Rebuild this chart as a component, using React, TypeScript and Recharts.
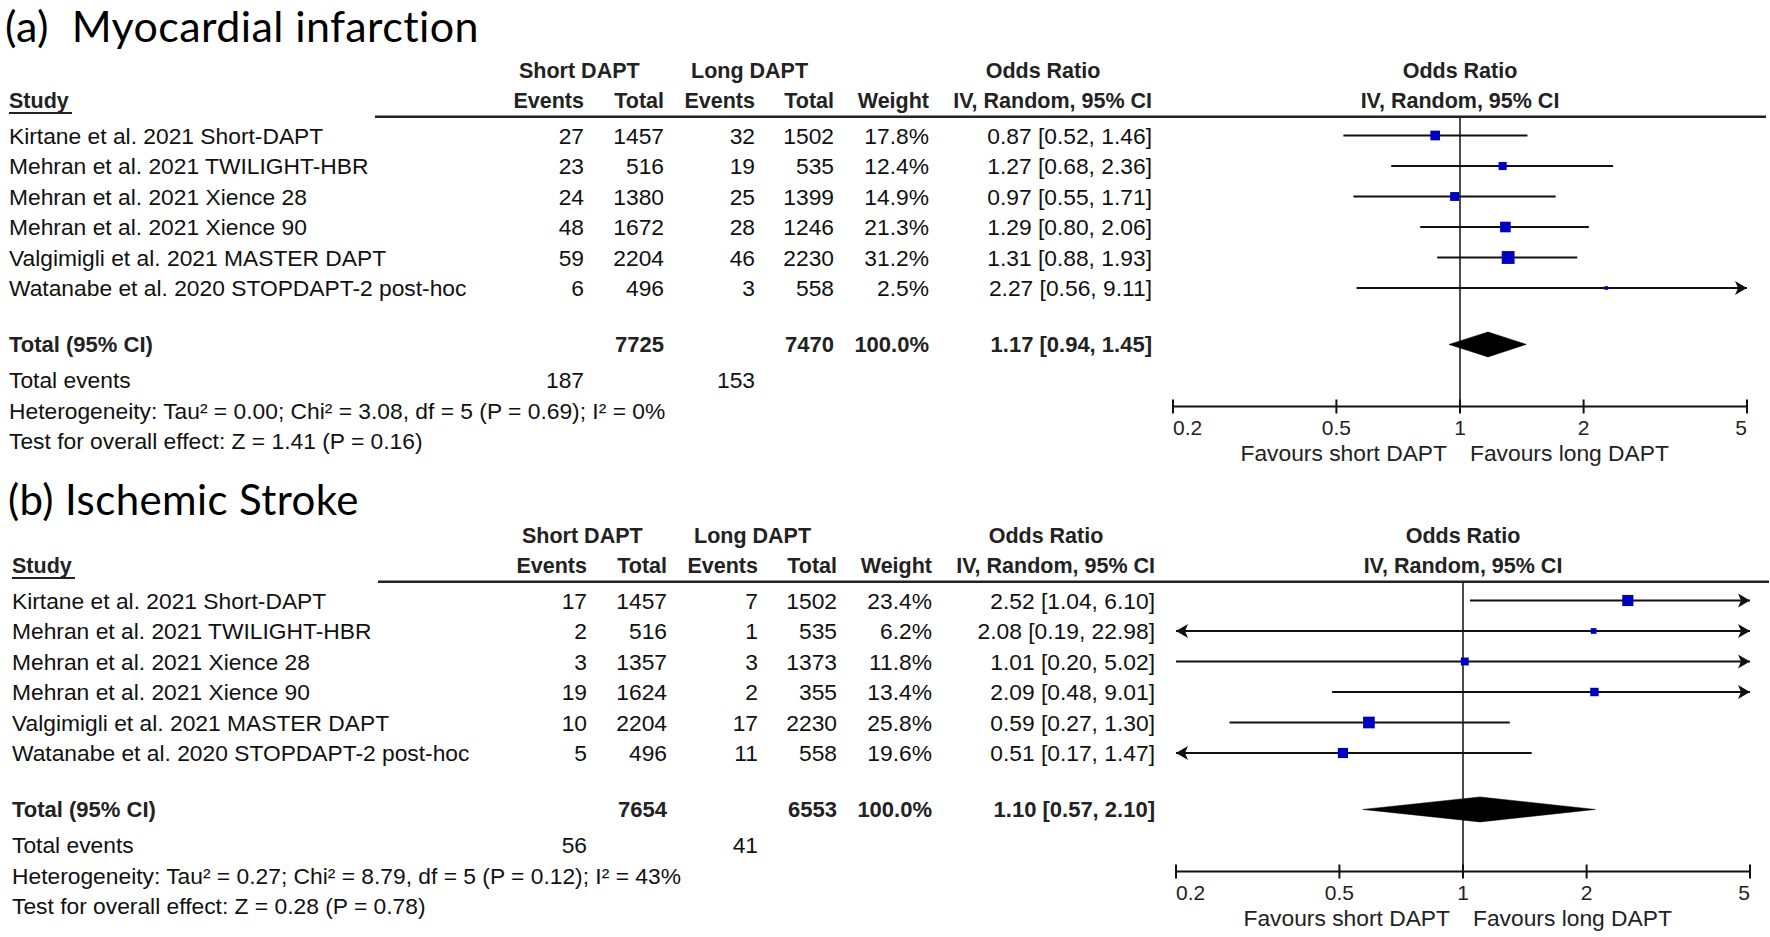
import React from 'react';
import { ScatterChart, Scatter, XAxis, YAxis, ReferenceLine } from 'recharts';

const STUDIES = [
  'Kirtane et al. 2021 Short-DAPT',
  'Mehran et al. 2021 TWILIGHT-HBR',
  'Mehran et al. 2021 Xience 28',
  'Mehran et al. 2021 Xience 90',
  'Valgimigli et al. 2021 MASTER DAPT',
  'Watanabe et al. 2020 STOPDAPT-2 post-hoc',
];

// (a) Myocardial infarction
const MI_SHORT_EVENTS = [27, 23, 24, 48, 59, 6];
const MI_SHORT_TOTAL = [1457, 516, 1380, 1672, 2204, 496];
const MI_LONG_EVENTS = [32, 19, 25, 28, 46, 3];
const MI_LONG_TOTAL = [1502, 535, 1399, 1246, 2230, 558];
const MI_WEIGHT = [17.8, 12.4, 14.9, 21.3, 31.2, 2.5];
const MI_OR = [0.87, 1.27, 0.97, 1.29, 1.31, 2.27];
const MI_LO = [0.52, 0.68, 0.55, 0.8, 0.88, 0.56];
const MI_HI = [1.46, 2.36, 1.71, 2.06, 1.93, 9.11];
const MI_TOTALS = [7725, 7470];
const MI_TOTAL_EVENTS = [187, 153];
const MI_POOLED = [1.17, 0.94, 1.45];
const MI_HET = 'Heterogeneity: Tau\u00b2 = 0.00; Chi\u00b2 = 3.08, df = 5 (P = 0.69); I\u00b2 = 0%';
const MI_TEST = 'Test for overall effect: Z = 1.41 (P = 0.16)';

// (b) Ischemic stroke
const IS_SHORT_EVENTS = [17, 2, 3, 19, 10, 5];
const IS_SHORT_TOTAL = [1457, 516, 1357, 1624, 2204, 496];
const IS_LONG_EVENTS = [7, 1, 3, 2, 17, 11];
const IS_LONG_TOTAL = [1502, 535, 1373, 355, 2230, 558];
const IS_WEIGHT = [23.4, 6.2, 11.8, 13.4, 25.8, 19.6];
const IS_OR = [2.52, 2.08, 1.01, 2.09, 0.59, 0.51];
const IS_LO = [1.04, 0.19, 0.2, 0.48, 0.27, 0.17];
const IS_HI = [6.1, 22.98, 5.02, 9.01, 1.3, 1.47];
const IS_TOTALS = [7654, 6553];
const IS_TOTAL_EVENTS = [56, 41];
const IS_POOLED = [1.1, 0.57, 2.1];
const IS_HET = 'Heterogeneity: Tau\u00b2 = 0.27; Chi\u00b2 = 8.79, df = 5 (P = 0.12); I\u00b2 = 43%';
const IS_TEST = 'Test for overall effect: Z = 0.28 (P = 0.78)';

const TICKS = [0.2, 0.5, 1, 2, 5];
const TICK_LABELS = ['0.2', '0.5', '1', '2', '5'];
const X_MIN = 0.2;
const X_MAX = 5;

// layout (panel-local pixels)
const ROW0 = 135.5;
const ROW_STEP = 30.5;
const TOTAL_ROW = 6.85;
const RULE_Y = 116.7;
const AXIS_Y = 406.5;
const COLS = [584, 664, 755, 834, 929, 1152];
const PLOT_LEFT = 1173;
const PLOT_RIGHT = 1747;
const CHART_W = 1770;
const CHART_H = 440;

const TABLE_FONT = '"Liberation Sans", Arial, sans-serif';
const TEXT = '#111';
const BLUE = '#0000c0';

const rowY = (r: number) => ROW0 + r * ROW_STEP;
const fmtCI = (o: number, l: number, h: number) => `${o.toFixed(2)} [${l.toFixed(2)}, ${h.toFixed(2)}]`;

function CiShape(props: any) {
  const { x1, y1, x2, y2, arrowLeft, arrowRight } = props;
  return (
    <g>
      <line x1={x1} y1={y1} x2={x2} y2={y2} stroke="#111" strokeWidth={2} />
      {arrowRight && (
        <polygon points={`${x2},${y2} ${x2 - 12},${y2 - 7} ${x2 - 9},${y2} ${x2 - 12},${y2 + 7}`} fill="#111" />
      )}
      {arrowLeft && (
        <polygon points={`${x1},${y1} ${x1 + 12},${y1 - 7} ${x1 + 9},${y1} ${x1 + 12},${y1 + 7}`} fill="#111" />
      )}
    </g>
  );
}

function HalfDiamond(props: any) {
  const { x1, y1, x2, y2, side } = props;
  const h = 12.5;
  const pts = side === 'left'
    ? `${x1},${y1} ${x2},${y2 - h} ${x2},${y2 + h}`
    : `${x1},${y1 - h} ${x2},${y2} ${x1},${y1 + h}`;
  return <polygon points={pts} fill="#000" stroke="#000" strokeWidth={0.5} />;
}

function BoxShape(props: any) {
  const { cx, cy, payload } = props;
  const s = 2.3 * Math.sqrt(payload.weight);
  return <rect x={cx - s / 2} y={cy - s / 2} width={s} height={s} fill={BLUE} />;
}

function ForestTick(props: any) {
  const { x, y, payload } = props;
  const i = TICKS.indexOf(payload.value);
  const anchor = i === 0 ? 'start' : i === TICKS.length - 1 ? 'end' : 'middle';
  return (
    <g>
      <line x1={x} x2={x} y1={y - 7} y2={y + 7} stroke="#111" strokeWidth={2} />
      <text x={x} y={y + 21} textAnchor={anchor} dominantBaseline="central" fontSize={21}
        fill="#222" fontFamily={TABLE_FONT}>
        {TICK_LABELS[i]}
      </text>
    </g>
  );
}

interface PanelProps {
  title: string;
  titleBase: number;
  titleSize: number;
  top: number;
  left: number;
  shortEvents: number[];
  shortTotal: number[];
  longEvents: number[];
  longTotal: number[];
  weight: number[];
  or: number[];
  lo: number[];
  hi: number[];
  totals: number[];
  totalEvents: number[];
  pooled: number[];
  het: string;
  test: string;
}

function Panel(p: PanelProps) {
  const points = p.or.map((v, i) => ({ or: v, row: i, weight: p.weight[i] }));
  const yTop = (RULE_Y - ROW0) / ROW_STEP;
  const yBottom = (AXIS_Y - ROW0) / ROW_STEP;
  const txt = { fontFamily: TABLE_FONT, fontSize: 22.8, fill: TEXT, dominantBaseline: 'central' as const };
  const bold = { ...txt, fontWeight: 700, fontSize: 21.5, fill: '#222' };
  const center = (PLOT_LEFT + PLOT_RIGHT) / 2;

  return (
    <div style={{ position: 'absolute', left: p.left, top: p.top, width: CHART_W, height: 470 }}>
      <div style={{ position: 'absolute', left: 0, top: 0 }}>
        <ScatterChart width={CHART_W} height={CHART_H}
          margin={{ top: RULE_Y, right: CHART_W - PLOT_RIGHT, bottom: CHART_H - AXIS_Y - 30, left: PLOT_LEFT }}>
          <XAxis type="number" dataKey="or" scale="log" domain={[X_MIN, X_MAX]} allowDataOverflow
            ticks={TICKS} interval={0} height={30} tickSize={0} tickMargin={0} tickLine={false}
            axisLine={{ stroke: '#111', strokeWidth: 2 }} tick={<ForestTick />} />
          <YAxis type="number" dataKey="row" domain={[yTop, yBottom]} reversed allowDataOverflow hide width={0} />
          <ReferenceLine x={1} stroke="#111" strokeWidth={1.5} ifOverflow="visible" />
          {p.lo.map((l, i) => (
            <ReferenceLine key={`ci${i}`} ifOverflow="visible"
              segment={[{ x: Math.max(l, X_MIN), y: i }, { x: Math.min(p.hi[i], X_MAX), y: i }]}
              shape={(sp: any) => <CiShape {...sp} arrowLeft={l < X_MIN} arrowRight={p.hi[i] > X_MAX} />} />
          ))}
          <ReferenceLine ifOverflow="visible"
            segment={[{ x: p.pooled[1], y: TOTAL_ROW }, { x: p.pooled[0], y: TOTAL_ROW }]}
            shape={(sp: any) => <HalfDiamond {...sp} side="left" />} />
          <ReferenceLine ifOverflow="visible"
            segment={[{ x: p.pooled[0], y: TOTAL_ROW }, { x: p.pooled[2], y: TOTAL_ROW }]}
            shape={(sp: any) => <HalfDiamond {...sp} side="right" />} />
          <Scatter data={points} shape={<BoxShape />} isAnimationActive={false} />
        </ScatterChart>
      </div>
      <svg width={CHART_W} height={470} style={{ position: 'absolute', left: 0, top: 0, overflow: 'visible' }}>
        <text x={5} y={p.titleBase} fontFamily="Lato, 'Open Sans', sans-serif" fontSize={p.titleSize}
          letterSpacing={0.4} fill="#000" style={{ whiteSpace: 'pre' }}>
          {p.title}
        </text>

        <text {...bold} x={519} y={71}>Short DAPT</text>
        <text {...bold} x={691} y={71}>Long DAPT</text>
        <text {...bold} x={1043} y={71} textAnchor="middle">Odds Ratio</text>
        <text {...bold} x={center} y={71} textAnchor="middle">Odds Ratio</text>

        <text {...bold} x={9} y={101}>Study</text>
        <line x1={9} x2={72} y1={113} y2={113} stroke="#222" strokeWidth={2} />
        <text {...bold} x={COLS[0]} y={101} textAnchor="end">Events</text>
        <text {...bold} x={COLS[1]} y={101} textAnchor="end">Total</text>
        <text {...bold} x={COLS[2]} y={101} textAnchor="end">Events</text>
        <text {...bold} x={COLS[3]} y={101} textAnchor="end">Total</text>
        <text {...bold} x={COLS[4]} y={101} textAnchor="end">Weight</text>
        <text {...bold} x={COLS[5]} y={101} textAnchor="end">IV, Random, 95% CI</text>
        <text {...bold} x={center} y={101} textAnchor="middle">IV, Random, 95% CI</text>
        <line x1={375} x2={1766} y1={RULE_Y} y2={RULE_Y} stroke="#222" strokeWidth={2.5} />

        {STUDIES.map((s, i) => (
          <g key={s}>
            <text {...txt} x={9} y={rowY(i)}>{s}</text>
            <text {...txt} x={COLS[0]} y={rowY(i)} textAnchor="end">{p.shortEvents[i]}</text>
            <text {...txt} x={COLS[1]} y={rowY(i)} textAnchor="end">{p.shortTotal[i]}</text>
            <text {...txt} x={COLS[2]} y={rowY(i)} textAnchor="end">{p.longEvents[i]}</text>
            <text {...txt} x={COLS[3]} y={rowY(i)} textAnchor="end">{p.longTotal[i]}</text>
            <text {...txt} x={COLS[4]} y={rowY(i)} textAnchor="end">{`${p.weight[i].toFixed(1)}%`}</text>
            <text {...txt} x={COLS[5]} y={rowY(i)} textAnchor="end">{fmtCI(p.or[i], p.lo[i], p.hi[i])}</text>
          </g>
        ))}

        <text {...bold} fontSize={22} x={9} y={rowY(TOTAL_ROW)}>Total (95% CI)</text>
        <text {...bold} fontSize={22} x={COLS[1]} y={rowY(TOTAL_ROW)} textAnchor="end">{p.totals[0]}</text>
        <text {...bold} fontSize={22} x={COLS[3]} y={rowY(TOTAL_ROW)} textAnchor="end">{p.totals[1]}</text>
        <text {...bold} fontSize={22} x={COLS[4]} y={rowY(TOTAL_ROW)} textAnchor="end">100.0%</text>
        <text {...bold} fontSize={22} x={COLS[5]} y={rowY(TOTAL_ROW)} textAnchor="end">
          {fmtCI(p.pooled[0], p.pooled[1], p.pooled[2])}
        </text>

        <text {...txt} x={9} y={380}>Total events</text>
        <text {...txt} x={COLS[0]} y={380} textAnchor="end">{p.totalEvents[0]}</text>
        <text {...txt} x={COLS[2]} y={380} textAnchor="end">{p.totalEvents[1]}</text>
        <text {...txt} x={9} y={411}>{p.het}</text>
        <text {...txt} x={9} y={441}>{p.test}</text>

        <text {...txt} fill="#222" x={center - 13} y={453} textAnchor="end">Favours short DAPT</text>
        <text {...txt} fill="#222" x={center + 10} y={453}>Favours long DAPT</text>
      </svg>
    </div>
  );
}

export default function App() {
  return (
    <div style={{ position: 'absolute', left: 0, top: 0, width: 1770, height: 937, background: '#fff', overflow: 'hidden' }}>
      <Panel title={'(a)\u00a0\u00a0Myocardial infarction'} titleBase={42} titleSize={43} top={0} left={0}
        shortEvents={MI_SHORT_EVENTS} shortTotal={MI_SHORT_TOTAL} longEvents={MI_LONG_EVENTS}
        longTotal={MI_LONG_TOTAL} weight={MI_WEIGHT} or={MI_OR} lo={MI_LO} hi={MI_HI}
        totals={MI_TOTALS} totalEvents={MI_TOTAL_EVENTS} pooled={MI_POOLED} het={MI_HET} test={MI_TEST} />
      <Panel title={'(b) Ischemic Stroke'} titleBase={50} titleSize={42} top={465} left={3}
        shortEvents={IS_SHORT_EVENTS} shortTotal={IS_SHORT_TOTAL} longEvents={IS_LONG_EVENTS}
        longTotal={IS_LONG_TOTAL} weight={IS_WEIGHT} or={IS_OR} lo={IS_LO} hi={IS_HI}
        totals={IS_TOTALS} totalEvents={IS_TOTAL_EVENTS} pooled={IS_POOLED} het={IS_HET} test={IS_TEST} />
    </div>
  );
}
